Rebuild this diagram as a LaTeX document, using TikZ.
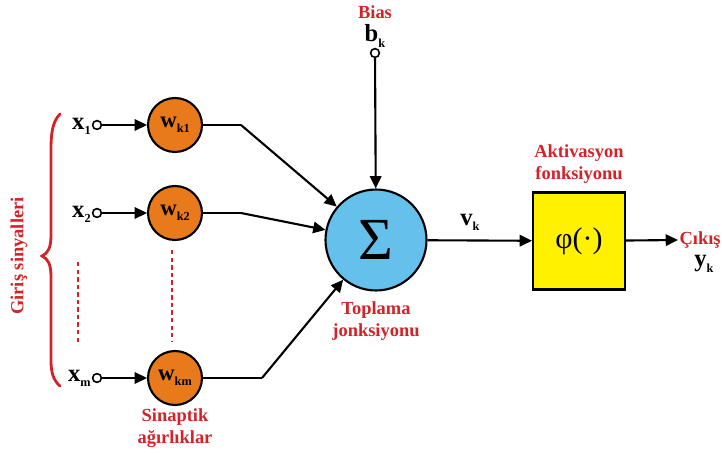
\documentclass[tikz,border=0pt]{standalone}
\usepackage{fontspec}
\setmainfont{Liberation Serif}
\usetikzlibrary{arrows.meta}
\definecolor{lblred}{RGB}{210,35,40}
\definecolor{wfill}{RGB}{232,122,28}
\definecolor{sfill}{RGB}{102,192,236}
\definecolor{bfill}{RGB}{255,241,0}
\newcommand{\sub}[1]{\raisebox{-0.45ex}{\fontsize{7}{7}\selectfont\bfseries #1}}
\tikzset{
  wire/.style={line width=1.2pt, black},
  arr/.style={wire, -{Triangle[length=7pt,width=6.5pt]}},
  weight/.style={circle, draw, line width=1.2pt, fill=wfill, minimum size=1.08cm, inner sep=0pt, font=\fontsize{13}{13}\selectfont\bfseries},
  summer/.style={circle, draw, line width=1.2pt, fill=sfill, minimum size=2.02cm, inner sep=0pt},
  actbox/.style={draw, line width=1.2pt, fill=bfill, minimum width=1.84cm, minimum height=1.94cm, inner sep=0pt},
  term/.style={circle, draw, line width=0.9pt, fill=white, minimum size=5pt, inner sep=0pt},
  sig/.style={font=\fontsize{14}{14}\selectfont\bfseries, inner sep=0pt},
  note/.style={text=lblred, font=\fontsize{10.5}{12.5}\selectfont\bfseries, align=center, inner sep=0pt},
  dots/.style={lblred, line width=1.3pt, dash pattern=on 2.5pt off 1.8pt}
}
\begin{document}
\begin{tikzpicture}[x=0.02cm, y=-0.02cm]
\useasboundingbox (0,0) rectangle (722,455);

% input signals and synaptic weights
\node[sig, anchor=east] (x1) at (91,126) {x\sub{1}};
\node[sig, anchor=east] (x2) at (91,214) {x\sub{2}};
\node[sig, anchor=east] (xm) at (91,378) {x\sub{m}};
\node[term] (t1) at (97,125) {};
\node[term] (t2) at (97,213) {};
\node[term] (tm) at (97,378) {};
\node[weight] (w1) at (175,125) {w\sub{k1}};
\node[weight] (w2) at (175,213) {w\sub{k2}};
\node[weight] (wm) at (175,378) {w\sub{km}};
\draw[arr] (t1) -- (w1);
\draw[arr] (t2) -- (w2);
\draw[arr] (tm) -- (wm);

% dotted continuation marks
\coordinate (da) at (78,262); \coordinate (db) at (78,342);
\coordinate (dc) at (172,250); \coordinate (dd) at (172,342);
\draw[dots] (da) -- (db);
\draw[dots] (dc) -- (dd);

% brace grouping the inputs
\draw[lblred, line width=1.6pt, line cap=round]
  (60,114) .. controls (52,122) and (51,135) .. (51,150)
  -- (51,235) .. controls (51,248) and (48,253) .. (42,256)
  .. controls (48,259) and (51,264) .. (51,277)
  -- (51,360) .. controls (51,372) and (53,380) .. (60,386);
\node[note, rotate=90] (giris) at (19,256) {Giriş sinyalleri};
\node[note] (sinap) at (175,428) {Sinaptik\\ağırlıklar};

% summing junction
\node[summer] (sum) at (376,240) {\fontsize{34}{34}\selectfont Σ};
\node[note] (topl) at (376,321) {Toplama\\jonksiyonu};
\coordinate (k1) at (241,125);
\coordinate (k2) at (241,213);
\coordinate (km) at (262,378);
\draw[wire] (w1) -- (k1);
\draw[arr] (k1) -- (sum);
\draw[wire] (w2) -- (k2);
\draw[arr] (k2) -- (sum);
\draw[wire] (wm) -- (km);
\draw[arr] (km) -- (sum);

% bias
\node[note] (bias) at (375,12) {Bias};
\node[sig] (bk) at (375,36) {b\sub{k}};
\node[term] (tb) at (375,53) {};
\draw[arr] (tb) -- (sum);

% activation function and output
\node[actbox] (act) at (579,241) {\fontsize{17}{17}\selectfont φ(·)};
\node[note] (aktiv) at (579,164) {Aktivasyon\\fonksiyonu};
\node[sig] (vk) at (470,222) {v\sub{k}};
\draw[arr] (sum) -- (act);
\coordinate (out) at (678,240);
\draw[arr] (act) -- (out);
\node[note, anchor=east] (cikis) at (721,240) {Çıkış};
\node[sig] (yk) at (704,264) {y\sub{k}};
\end{tikzpicture}
\end{document}
